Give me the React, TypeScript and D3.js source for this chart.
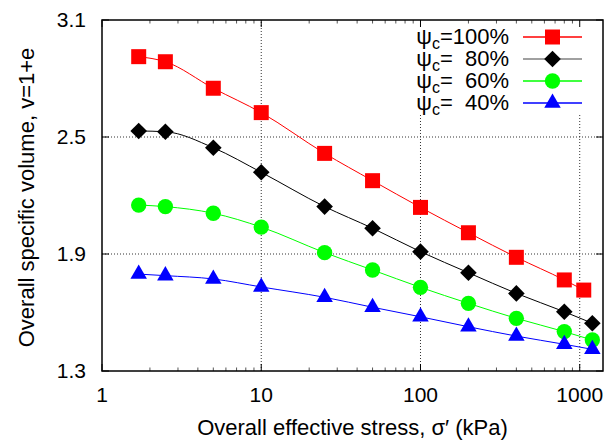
import React from 'react';
import * as d3 from 'd3';

// applied stress (kPa) for each test
const stress100 = [1.7, 2.5, 5, 10, 25, 50, 100, 200, 400, 800, 1060];
const stressRest = [1.7, 2.5, 5, 10, 25, 50, 100, 200, 400, 800, 1200];

// specific volume v = 1 + e
const v100 = [2.912, 2.886, 2.75, 2.625, 2.416, 2.276, 2.139, 2.009, 1.883, 1.767, 1.715];
const v80 = [2.531, 2.527, 2.445, 2.319, 2.143, 2.032, 1.912, 1.804, 1.698, 1.604, 1.545];
const v60 = [2.151, 2.143, 2.109, 2.038, 1.907, 1.818, 1.729, 1.647, 1.57, 1.502, 1.459];
const v40 = [1.797, 1.789, 1.772, 1.731, 1.678, 1.627, 1.578, 1.527, 1.479, 1.437, 1.411];

const legendLabels = ['=100%', '=  80%', '=  60%', '=  40%'];
const xTicks = [1, 10, 100, 1000];
const xTickLabels = ['1', '10', '100', '1000'];
const yTicks = [1.3, 1.9, 2.5, 3.1];

const W = 609;
const H = 443;
const margin = { left: 102, right: 6, top: 20, bottom: 72 };
const font = '"Liberation Sans", Arial, Helvetica, sans-serif';

const series = [
  { x: stress100, y: v100, color: '#ff0000', legColor: '#ff0000', marker: 'square' },
  { x: stressRest, y: v80, color: '#000000', legColor: '#808080', marker: 'diamond' },
  { x: stressRest, y: v60, color: '#00ff00', legColor: '#00ff00', marker: 'circle' },
  { x: stressRest, y: v40, color: '#0000ff', legColor: '#0000ff', marker: 'triangle' },
];

const markerPath = (kind: string) => {
  if (kind === 'square') return d3.symbol(d3.symbolSquare, 225)()!;
  if (kind === 'diamond') return d3.symbol(d3.symbolSquare, 138)()!;
  if (kind === 'circle') return d3.symbol(d3.symbolCircle, 185)()!;
  return d3.symbol(d3.symbolTriangle, 118)()!;
};

const Marker = ({ kind, x, y, color }: { kind: string; x: number; y: number; color: string }) => (
  <path
    d={markerPath(kind)}
    transform={`translate(${x},${y})${kind === 'diamond' ? ' rotate(45)' : ''}`}
    fill={color}
  />
);

export default function App() {
  const x0 = margin.left;
  const x1 = W - margin.right;
  const y0 = H - margin.bottom;
  const y1 = margin.top;

  const x = d3.scaleLog().domain([1, 1400]).range([x0, x1]);
  const y = d3.scaleLinear().domain([1.3, 3.1]).range([y0, y1]);

  const minor: number[] = [];
  for (let d = 1; d <= 1000; d *= 10) {
    for (let k = 2; k <= 9; k++) if (d * k <= 1400) minor.push(d * k);
  }

  const line = d3
    .line<[number, number]>()
    .x((d) => x(d[0]))
    .y((d) => y(d[1]))
    .curve(d3.curveMonotoneX);

  const legendTextX = 509;
  const legendLineX0 = 523;
  const legendLineX1 = 582;
  const legendY0 = 37;
  const legendDy = 22;

  return (
    <svg
      width={W}
      height={H}
      style={{ position: 'absolute', left: 0, top: 0, background: '#fff' }}
      fontFamily={font}
    >
      <rect x={0} y={0} width={W} height={H} fill="#fff" />

      {/* grid */}
      {xTicks
        .filter((t) => t > 1)
        .map((t) => (
          <line key={'gx' + t} x1={x(t)} x2={x(t)} y1={y0} y2={y1} stroke="#333" strokeWidth={1} strokeDasharray="1,2" />
        ))}
      {yTicks
        .filter((t) => t > 1.3 && t < 3.1)
        .map((t) => (
          <line key={'gy' + t} x1={x0} x2={x1} y1={y(t)} y2={y(t)} stroke="#333" strokeWidth={1} strokeDasharray="1,2" />
        ))}

      {/* legend background */}
      <rect x={402} y={y1} width={x1 - 402} height={95} fill="#fff" />

      {/* ticks */}
      {xTicks.map((t) => (
        <g key={'xt' + t}>
          <line x1={x(t)} x2={x(t)} y1={y0} y2={y0 - 7} stroke="#000" />
          <line x1={x(t)} x2={x(t)} y1={y1} y2={y1 + 7} stroke="#000" />
        </g>
      ))}
      {minor.map((t) => (
        <g key={'mt' + t}>
          <line x1={x(t)} x2={x(t)} y1={y0} y2={y0 - 3.5} stroke="#555" />
          <line x1={x(t)} x2={x(t)} y1={y1} y2={y1 + 3.5} stroke="#555" />
        </g>
      ))}
      {yTicks.map((t) => (
        <g key={'yt' + t}>
          <line x1={x0} x2={x0 + 7} y1={y(t)} y2={y(t)} stroke="#000" />
          <line x1={x1} x2={x1 - 7} y1={y(t)} y2={y(t)} stroke="#000" />
        </g>
      ))}

      {/* series */}
      {series.map((s, i) => {
        const pts = s.x.map((v, j) => [v, s.y[j]] as [number, number]);
        return (
          <g key={'s' + i}>
            <path d={line(pts)!} fill="none" stroke={s.color} strokeWidth={1} />
            {pts.map((p, j) => (
              <Marker key={j} kind={s.marker} x={x(p[0])} y={y(p[1])} color={s.color} />
            ))}
          </g>
        );
      })}

      {/* border */}
      <rect x={x0} y={y1} width={x1 - x0} height={y0 - y1} fill="none" stroke="#000" strokeWidth={1.5} />

      {/* tick labels */}
      {xTicks.map((t, i) => (
        <text key={'xl' + t} x={x(t)} y={y0 + 31} textAnchor="middle" fontSize={21} fill="#000">
          {xTickLabels[i]}
        </text>
      ))}
      {yTicks.map((t) => (
        <text key={'yl' + t} x={x0 - 16} y={y(t) + 7} textAnchor="end" fontSize={21} fill="#000">
          {t.toFixed(1)}
        </text>
      ))}

      {/* axis titles */}
      <text x={(x0 + x1) / 2} y={H - 8} textAnchor="middle" fontSize={22} fill="#000">
        Overall effective stress, σ′ (kPa)
      </text>
      <text
        transform={`translate(34,${(y0 + y1) / 2 + 2}) rotate(-90)`}
        textAnchor="middle"
        fontSize={22}
        fill="#000"
      >
        Overall specific volume, v=1+e
      </text>

      {/* legend */}
      {series.map((s, i) => {
        const ly = legendY0 + i * legendDy;
        return (
          <g key={'lg' + i}>
            <text x={legendTextX} y={ly + 7} textAnchor="end" fontSize={22} fill="#000" style={{ whiteSpace: 'pre' }}>
              ψ<tspan fontSize={16} dy={5}>c</tspan>
              <tspan dy={-5}>{legendLabels[i]}</tspan>
            </text>
            <line x1={legendLineX0} x2={legendLineX1} y1={ly} y2={ly} stroke={s.legColor} strokeWidth={1.5} />
            <Marker kind={s.marker} x={(legendLineX0 + legendLineX1) / 2} y={ly} color={s.color} />
          </g>
        );
      })}
    </svg>
  );
}
